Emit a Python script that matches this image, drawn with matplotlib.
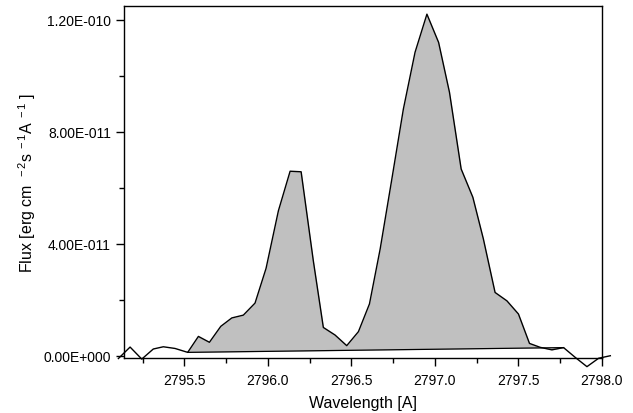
import matplotlib
matplotlib.use("Agg")
import matplotlib.pyplot as plt
import numpy as np
from matplotlib.ticker import FixedLocator, FuncFormatter

plt.rcParams['font.family'] = ['Liberation Sans', 'DejaVu Sans']
plt.rcParams['mathtext.fontset'] = 'custom'
plt.rcParams['mathtext.rm'] = 'Liberation Sans'
plt.rcParams['mathtext.it'] = 'Liberation Sans'

# Spectrum (wavelength in Angstrom, flux in units of 1e-12 erg cm^-2 s^-1 A^-1)
wavelength = [2795.105, 2795.175, 2795.245, 2795.314, 2795.374, 2795.444, 2795.520,
              2795.584, 2795.650, 2795.718, 2795.784, 2795.853, 2795.923, 2795.989,
              2796.063, 2796.133, 2796.199, 2796.272, 2796.332, 2796.402, 2796.472,
              2796.542, 2796.608, 2796.672, 2796.742, 2796.811, 2796.881, 2796.952,
              2797.022, 2797.087, 2797.157, 2797.227, 2797.290, 2797.360, 2797.431,
              2797.500, 2797.566, 2797.630, 2797.700, 2797.770, 2797.840, 2797.910,
              2797.980, 2798.050]
flux_e12 = [-1.0, 3.1, -1.2, 2.4, 3.2, 2.6, 1.2,
            6.9, 4.8, 10.5, 13.5, 14.5, 18.8, 31.2,
            51.8, 65.9, 65.7, 33.9, 10.1, 7.4, 3.6,
            8.6, 18.5, 38.1, 63.1, 88.1, 108.4, 122.0,
            111.9, 94.1, 66.7, 56.6, 41.7, 22.6, 19.6,
            14.9, 4.4, 3.0, 2.1, 2.9, -0.6, -3.9,
            -0.9, 0.0]

# Linear continuum (baseline) used for the shaded integration region
base_wl = [2795.520, 2797.770]
base_flux_e12 = [1.2, 2.9]

yticks_vals = [0.0, 4.0e-11, 8.0e-11, 1.2e-10]
xticks_vals = [2795.5, 2796.0, 2796.5, 2797.0, 2797.5, 2798.0]

x = np.array(wavelength)
y = np.array(flux_e12) * 1e-12
bx = np.array(base_wl)
by = np.array(base_flux_e12) * 1e-12

fig = plt.figure(figsize=(6.33, 4.14), dpi=100)
ax = fig.add_axes([0.196, 0.134, 0.755, 0.849])

mask = (x >= bx[0] - 1e-9) & (x <= bx[1] + 1e-9)
xs = x[mask]
ys = y[mask]
bl = np.interp(xs, bx, by)
ax.fill_between(xs, ys, bl, color='#c0c0c0', linewidth=0, zorder=1)
ax.plot(bx, by, color='black', lw=0.9, zorder=2)
ax.plot(x, y, color='black', lw=1.0, zorder=3, clip_on=False)

ax.set_xlim(2795.139, 2798.0)
ax.set_ylim(-0.64e-12, 124.9e-12)

ax.xaxis.set_major_locator(FixedLocator(xticks_vals))
ax.xaxis.set_minor_locator(FixedLocator(np.arange(2795.25, 2798.0, 0.5)))
ax.yaxis.set_major_locator(FixedLocator(yticks_vals))
ax.yaxis.set_minor_locator(FixedLocator([2e-11, 6e-11, 1e-10]))

ax.xaxis.set_major_formatter(FuncFormatter(lambda v, p: f"{v:.1f}"))
def yfmt(v, p):
    if v == 0:
        return "0.00E+000"
    m, e = f"{v:.2E}".split("E")
    ei = int(e)
    sign = "-" if ei < 0 else "+"
    return f"{m}E{sign}{abs(ei):03d}"
ax.yaxis.set_major_formatter(FuncFormatter(yfmt))

ax.tick_params(which='major', direction='out', length=6, width=1, labelsize=10)
ax.tick_params(which='minor', direction='out', length=3.5, width=1)
ax.tick_params(axis='x', pad=5)
for s in ax.spines.values():
    s.set_linewidth(1.0)

ax.set_xlabel("Wavelength [A]", fontsize=11.5, labelpad=6)
ax.set_ylabel(r"Flux [erg cm$^{\ \ -2}$s$^{\ -1}$A$^{\ -1}$ ]", fontsize=11.5, labelpad=4)

fig.savefig("out.png", dpi=100)
